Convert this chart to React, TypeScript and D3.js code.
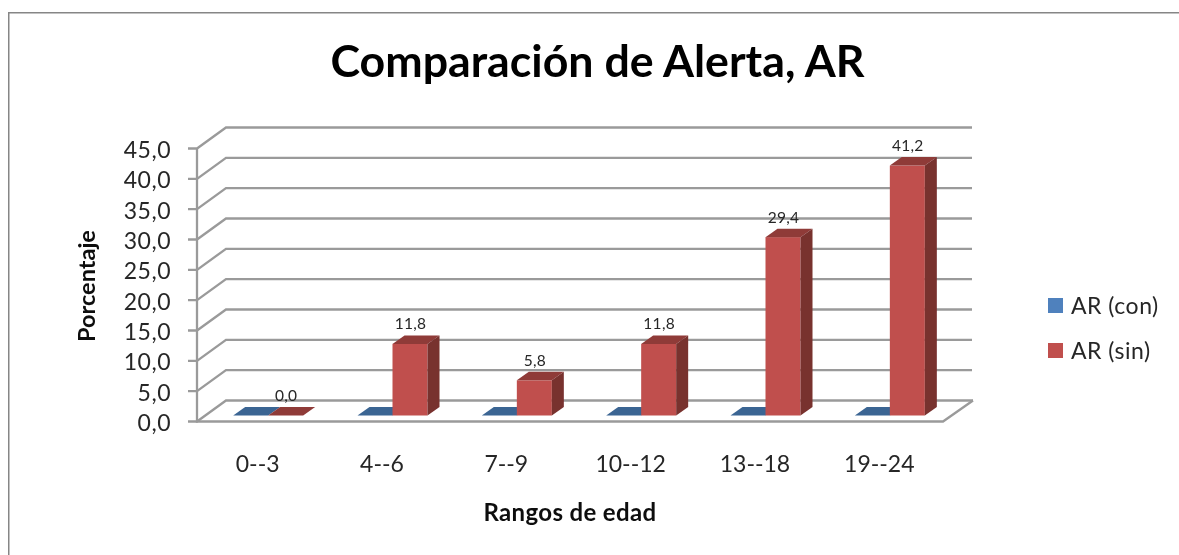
import React from "react";
import * as d3 from "d3";

const categories = ["0--3", "4--6", "7--9", "10--12", "13--18", "19--24"];
const seriesNames = ["AR (con)", "AR (sin)"];
const conValues = [0, 0, 0, 0, 0, 0];
const sinValues = [0, 11.8, 5.8, 11.8, 29.4, 41.2];
const yTicks = [0, 5, 10, 15, 20, 25, 30, 35, 40, 45];
const sinLabels = ["0,0", "11,8", "5,8", "11,8", "29,4", "41,2"];

const front = "#c0504d";
const top = "#8f3a38";
const side = "#78302e";
const blueFront = "#4f81bd";
const blueTop = "#3b6593";
const grid = "#9a9a9a";
const ink = "#262626";

const fmt = (v: number) => v.toFixed(1).replace(".", ",");

export default function App() {
  const y = d3.scaleLinear().domain([0, 45]).range([421.5, 148.5]);
  const x = d3.scaleBand<string>().domain(categories).range([197, 943]);
  const wallDx = 29, wallDy = -21;
  const barInsetX = 9, barInsetY = -6;
  const barW = 35, depthX = 12, depthY = -8.5;
  const x0 = 197, x1 = 943;
  const font = "Lato, sans-serif";

  const bar = (i: number, s: number, v: number, key: string) => {
    const c = x(categories[i])! + x.bandwidth() / 2 + barInsetX;
    const l = c + (s === 0 ? -barW : 0);
    const r = l + barW;
    const b = y(0) + barInsetY;
    const t = y(v) + barInsetY;
    const dx = depthX, dy = depthY;
    const fc = s === 0 ? blueFront : front;
    const tc = s === 0 ? blueTop : top;
    return (
      <g key={key}>
        {v > 0 && <rect x={l} y={t} width={barW} height={b - t} fill={fc} />}
        <polygon points={`${l},${t} ${l + dx},${t + dy} ${r + dx},${t + dy} ${r},${t}`} fill={tc} />
        {v > 0 && <polygon points={`${r},${t} ${r + dx},${t + dy} ${r + dx},${b + dy} ${r},${b}`} fill={side} />}
      </g>
    );
  };

  return (
    <svg width={1179} height={555} style={{ position: "absolute", left: 0, top: 0 }}>
      <defs>
        <filter id="soft" x="0" y="0" width="100%" height="100%">
          <feGaussianBlur stdDeviation="0.55" />
        </filter>
      </defs>
      <rect width={1179} height={555} fill="#fff" />
      <g filter="url(#soft)">
        <path d="M8.5,555 V12.5 H1179" fill="none" stroke="#868686" strokeWidth={2} />
        <text x={597.5} y={77} textAnchor="middle" fontFamily={font} fontWeight={700} fontSize={44.7} fill="#000">
          Comparación de Alerta, AR
        </text>

        {yTicks.map((t) => (
          <path key={t} d={`M188,${y(t)} H${x0} L${x0 + wallDx},${y(t) + wallDy} H${x1 + wallDx + (t === 0 ? 1 : 0)}`} fill="none" stroke={grid} strokeWidth={2.3} />
        ))}
        <path d={`M${x0},${y(45)} V${y(0)} H${x1} L${x1 + wallDx + 1},${y(0) + wallDy}`} fill="none" stroke={grid} strokeWidth={2.3} />

        {categories.map((c, i) => (
          <g key={c}>
            {bar(i, 0, conValues[i], `con-${c}`)}
            {bar(i, 1, sinValues[i], `sin-${c}`)}
          </g>
        ))}

        {yTicks.map((t) => (
          <text key={t} x={171} y={y(t) + 9.5} textAnchor="end" fontFamily={font} fontSize={23} letterSpacing={0.5} fill={ink}>
            {fmt(t)}
          </text>
        ))}
        {categories.map((c) => (
          <text key={c} x={x(c)! + x.bandwidth() / 2 - 1.5} y={472} textAnchor="middle" fontFamily={font} fontSize={23} fill={ink}>
            {c}
          </text>
        ))}
        {categories.map((c, i) => (
          <text key={c} x={x(c)! + x.bandwidth() / 2 + 27} y={y(sinValues[i]) - 20.5} textAnchor="middle" fontFamily={font} fontSize={15.5} letterSpacing={0.3} fill={ink}>
            {sinLabels[i]}
          </text>
        ))}

        <text x={570} y={521} textAnchor="middle" fontFamily={font} fontWeight={700} fontSize={24} letterSpacing={0.35} fill="#111">
          Rangos de edad
        </text>
        <text transform="translate(95,286) rotate(-90)" textAnchor="middle" fontFamily={font} fontWeight={700} fontSize={23.5} fill="#111">
          Porcentaje
        </text>

        {seriesNames.map((n, i) => (
          <g key={n}>
            <rect x={1048} y={298 + i * 45} width={15} height={15} fill={i === 0 ? blueFront : front} />
            <text x={1071} y={313.5 + i * 45} fontFamily={font} fontSize={23} letterSpacing={0.5} fill={ink}>
              {n}
            </text>
          </g>
        ))}
      </g>
    </svg>
  );
}
